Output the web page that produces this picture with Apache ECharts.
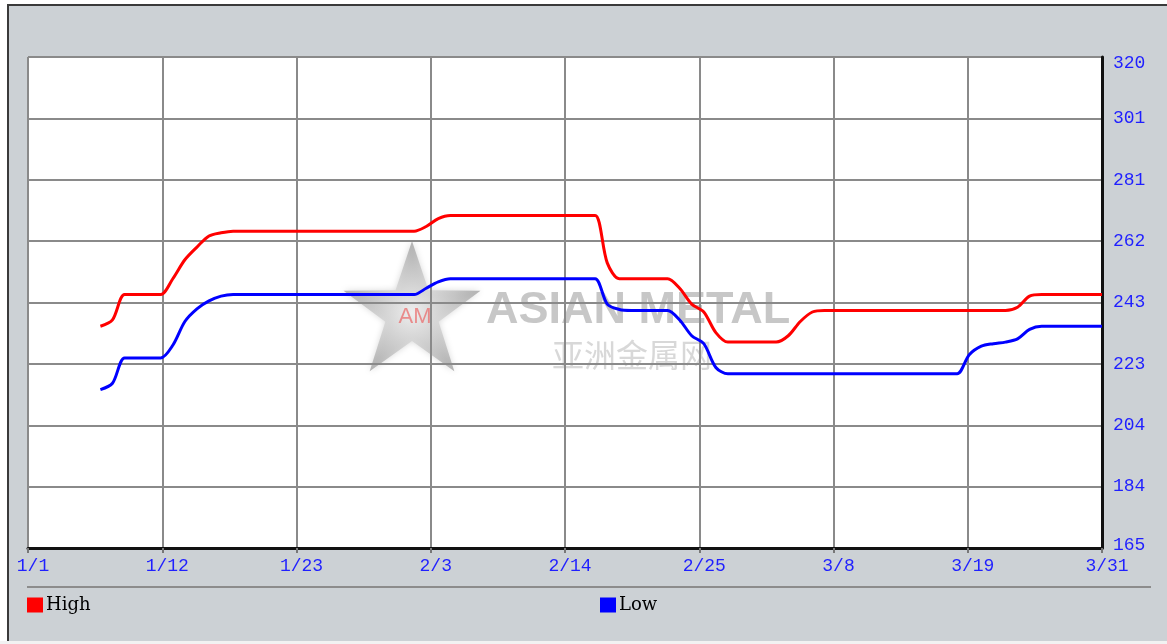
<!DOCTYPE html>
<html>
<head>
<meta charset="utf-8">
<script src="https://cdn.jsdelivr.net/npm/echarts@6/dist/echarts.min.js"></script>
<style>
html,body{margin:0;padding:0;background:#ffffff;}
#chart{width:1167px;height:644px;}
</style>
</head>
<body>
<div id="chart"></div>
<script>
// ---- data (x = days since 1/1) ----
const xTickLabels = ['1/1','1/12','1/23','2/3','2/14','2/25','3/8','3/19','3/31'];
const yTickLabels = ['165','184','204','223','243','262','281','301','320'];
const seriesNames = ['High','Low'];

const highDays   = [6,7,8,9,10,11,12,13,14,15,16,17,18,31,32,33,34,35,36,46,47,48,49,50,52,53,54,55,56,57,58,59,61,62,63,64,65,66,67,80,81,82,83,84,85,89];
const highValues = [235,237,245,245,245,245,250,256,260,263.5,264.5,265,265,265,265,266.5,269,270,270,270,270,255,250,250,250,250,247,242,239.5,233,230,230,230,230,232,236.5,239.5,240,240,240,240,241,244.5,245,245,245];

const lowDays    = [6,7,8,9,10,11,12,13,14,15,16,17,18,31,32,33,34,35,36,46,47,48,49,50,52,53,54,55,56,57,58,59,76,77,78,79,80,81,82,83,84,85,89];
const lowValues  = [215,217,225,225,225,225,229,236.5,240.5,243,244.5,245,245,245,245,247,249,250,250,250,250,242,240.3,240,240,240,237,232,229.5,222,220,220,220,220,226,228.7,229.5,230,231,234,235,235,235];

const xMin = 0, xMax = 89, xStep = 89 / 8;
const yMin = 165, yMax = 320, yStep = 19.375;

const highData = highDays.map((d, i) => [d, highValues[i]]);
const lowData = lowDays.map((d, i) => [d, lowValues[i]]);

// star polygon for watermark
function starPoints(cx, cy, R, r) {
  const pts = [];
  for (let k = 0; k < 10; k++) {
    const rad = (k % 2 === 0) ? R : r;
    const a = -Math.PI / 2 + k * Math.PI / 5;
    pts.push([cx + rad * Math.cos(a), cy + rad * Math.sin(a)]);
  }
  return pts;
}

const chart = echarts.init(document.getElementById('chart'), null, {renderer: 'canvas'});
const axisFont = {fontFamily: '"Liberation Mono", "DejaVu Sans Mono", monospace', fontSize: 18, color: '#1f1fff'};
const legendText = {fontFamily: '"DejaVu Serif", "Liberation Serif", serif', fontSize: 18, color: '#000', padding: [2, 0, 0, -2]};

chart.setOption({
  backgroundColor: '#ccd1d5',
  animation: false,
  grid: {
    left: 28, right: 65, top: 57, bottom: 96,
    containLabel: false,
    show: true, backgroundColor: '#ffffff', borderWidth: 0
  },
  xAxis: {
    type: 'value', min: xMin, max: xMax, interval: xStep, z: 1,
    axisLine: {show: true, onZero: false, lineStyle: {color: '#111', width: 3}},
    axisTick: {show: true, length: 5, lineStyle: {color: '#777', width: 2}},
    splitLine: {show: true, lineStyle: {color: '#8a8a8a', width: 2}},
    axisLabel: Object.assign({
      margin: 9,
      padding: [0, 0, 0, 10],
      showMinLabel: true, showMaxLabel: true,
      formatter: v => xTickLabels[Math.round((v - xMin) / xStep)]
    }, axisFont)
  },
  yAxis: {
    type: 'value', position: 'right', min: yMin, max: yMax, interval: yStep, z: 1,
    axisLine: {show: true, onZero: false, lineStyle: {color: '#111', width: 3}},
    axisTick: {show: false},
    splitLine: {show: true, lineStyle: {color: '#8a8a8a', width: 2}},
    axisLabel: Object.assign({
      margin: 11,
      showMinLabel: true, showMaxLabel: true,
      formatter: v => {
        const i = Math.round((v - yMin) / yStep);
        const t = yTickLabels[i];
        if (i === yTickLabels.length - 1) return '{top|' + t + '}';
        if (i === 0) return '{bot|' + t + '}';
        return t;
      },
      rich: {
        top: Object.assign({padding: [13, 0, 0, 0]}, axisFont),
        bot: Object.assign({padding: [0, 0, 6, 0]}, axisFont)
      }
    }, axisFont)
  },
  legend: [
    {
      data: [seriesNames[0]], left: 27, top: 596, padding: 0,
      icon: 'rect', itemWidth: 16, itemHeight: 15, itemGap: 0,
      textStyle: legendText
    },
    {
      data: [seriesNames[1]], left: 600, top: 596, padding: 0,
      icon: 'rect', itemWidth: 16, itemHeight: 15, itemGap: 0,
      textStyle: legendText
    }
  ],
  graphic: [
    // outer frame
    {type: 'rect', shape: {x: 0, y: 0, width: 1167, height: 4}, style: {fill: '#ffffff'}, silent: true},
    {type: 'rect', shape: {x: 0, y: 0, width: 7, height: 644}, style: {fill: '#ffffff'}, silent: true},
    {type: 'rect', shape: {x: 0, y: 641, width: 1167, height: 3}, style: {fill: '#f2f2f2'}, silent: true},
    {type: 'rect', shape: {x: 7, y: 4, width: 1160, height: 2}, style: {fill: '#3a3a3a'}, silent: true},
    {type: 'rect', shape: {x: 7, y: 4, width: 2, height: 637}, style: {fill: '#3a3a3a'}, silent: true},
    // legend separator
    {type: 'rect', shape: {x: 27, y: 586, width: 1124, height: 2}, style: {fill: '#8c8c8c'}, silent: true},
    // watermark
    {
      type: 'polygon', silent: true,
      shape: {points: starPoints(412, 313, 72, 28)},
      style: {
        fill: {
          type: 'radial', x: 0.5, y: 0.55, r: 0.6,
          colorStops: [
            {offset: 0, color: 'rgba(245,245,245,0.75)'},
            {offset: 0.6, color: 'rgba(185,185,185,0.7)'},
            {offset: 1, color: 'rgba(140,140,140,0.7)'}
          ]
        },
        shadowBlur: 6, shadowColor: 'rgba(120,120,120,0.4)'
      }
    },
    {
      type: 'text', silent: true, x: 415, y: 317,
      style: {text: 'AM', fill: 'rgba(235,90,90,0.65)', font: '22px "Liberation Sans", Arial, sans-serif', align: 'center', verticalAlign: 'middle'}
    },
    {
      type: 'text', silent: true, x: 486, y: 311,
      style: {text: 'ASIAN METAL', fill: 'rgba(175,175,175,0.7)', font: 'bold 45px "Liberation Sans", Arial, sans-serif', align: 'left', verticalAlign: 'middle'}
    },
    {
      type: 'text', silent: true, x: 632, y: 355,
      style: {text: '亚洲金属网', fill: 'rgba(200,200,200,0.7)', font: '32px "Noto Sans CJK SC", sans-serif', align: 'center', verticalAlign: 'middle'}
    }
  ],
  series: [
    {
      name: seriesNames[0], type: 'line', data: highData,
      showSymbol: false, symbol: 'none', smooth: 0.3,
      lineStyle: {color: '#ff0000', width: 3}, itemStyle: {color: '#ff0000'}, z: 3
    },
    {
      name: seriesNames[1], type: 'line', data: lowData,
      showSymbol: false, symbol: 'none', smooth: 0.3,
      lineStyle: {color: '#0000ff', width: 3}, itemStyle: {color: '#0000ff'}, z: 3
    }
  ]
});
</script>
</body>
</html>
